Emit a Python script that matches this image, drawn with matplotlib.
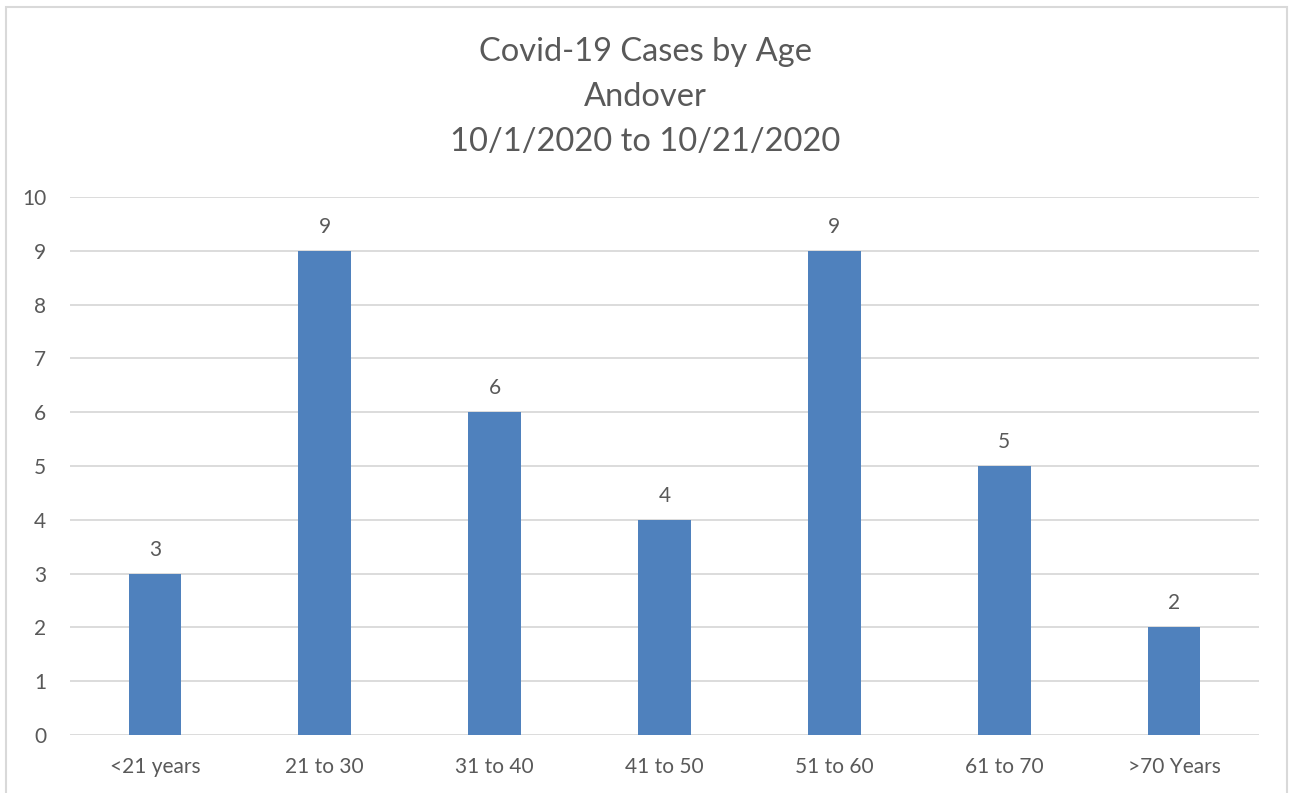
import matplotlib
matplotlib.use("Agg")
import matplotlib.pyplot as plt
from matplotlib.patches import Rectangle

categories = ["<21 years", "21 to 30", "31 to 40", "41 to 50", "51 to 60", "61 to 70", ">70 Years"]
cases = [3, 9, 6, 4, 9, 5, 2]
title_lines = ["Covid-19 Cases by Age", "Andover", "10/1/2020 to 10/21/2020"]

TEXT = "#595959"
GRID = "#D9D9D9"
BAR = "#4F81BD"

plt.rcParams["font.family"] = ["Lato", "DejaVu Sans"]

W, H = 1291, 793
fig = plt.figure(figsize=(W / 100, H / 100), dpi=100)
ax = fig.add_axes([70 / W, (H - 735) / H, (1259 - 70) / W, (735 - 197) / H])

x = range(len(categories))
bars = ax.bar(x, cases, width=0.31, color=BAR, zorder=3)
for b, v in zip(bars, cases):
    ax.annotate(str(v), (b.get_x() + b.get_width() / 2, v), xytext=(0, 14),
                textcoords="offset pixels", ha="center", va="bottom",
                fontsize=15, color=TEXT)

ax.set_xlim(-0.5, len(categories) - 0.5)
ax.set_ylim(0, 10)
ax.set_yticks(range(0, 11))
ax.set_xticks(list(x))
ax.set_xticklabels(categories)
ax.grid(axis="y", color=GRID, linewidth=1.3, zorder=0)
ax.tick_params(axis="both", length=0, labelsize=15, labelcolor=TEXT)
ax.tick_params(axis="y", pad=17)
ax.tick_params(axis="x", pad=16)
for s in ax.spines.values():
    s.set_visible(False)

ys = [52, 97, 142]
for t, yy in zip(title_lines, ys):
    fig.text(0.5, 1 - yy / H, t, ha="center", va="center", fontsize=23.5, color=TEXT)

fig.patches.append(Rectangle((6 / W, -0.05), (1287 - 6) / W, 1.05 - 7 / H,
                             transform=fig.transFigure, fill=False,
                             edgecolor=GRID, linewidth=1.5))

fig.savefig("out.png", dpi=100)
